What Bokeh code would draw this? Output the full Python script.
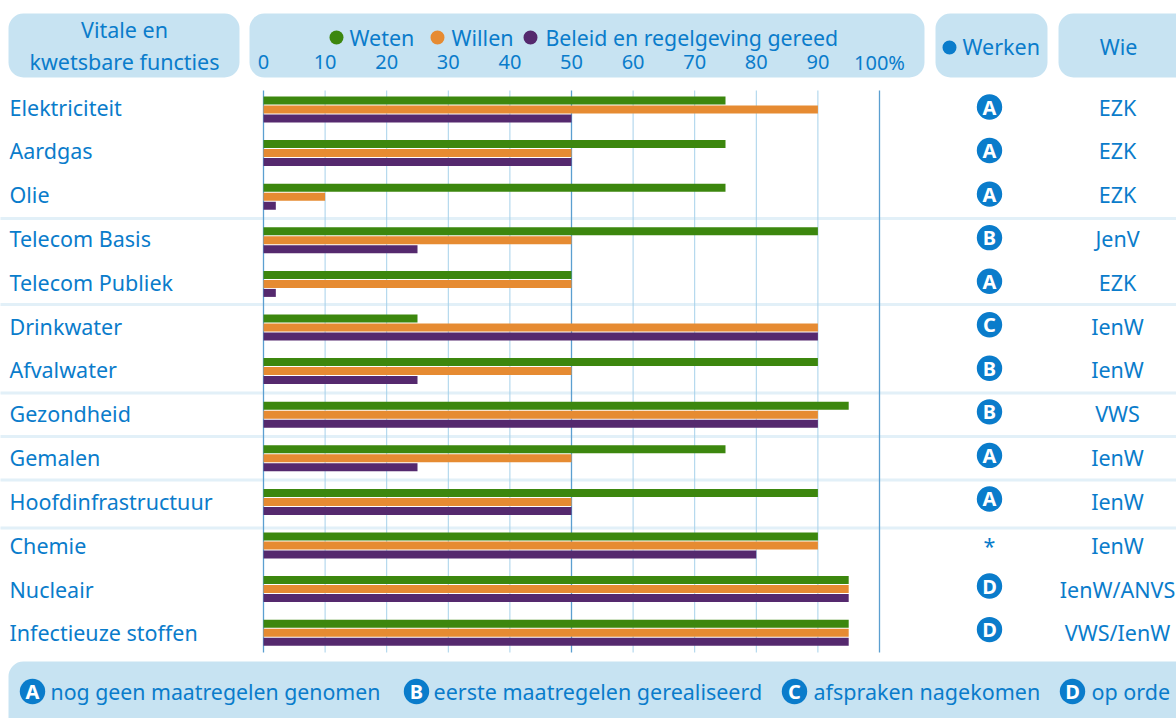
from bokeh.plotting import figure
from bokeh.models import Range1d, BoxAnnotation
from bokeh.core.properties import value
from bokeh.embed import file_html
from bokeh.resources import INLINE

categories = ["Elektriciteit", "Aardgas", "Olie", "Telecom Basis", "Telecom Publiek", "Drinkwater",
              "Afvalwater", "Gezondheid", "Gemalen", "Hoofdinfrastructuur", "Chemie", "Nucleair",
              "Infectieuze stoffen"]
weten = [75, 75, 75, 90, 50, 25, 90, 95, 75, 90, 90, 95, 95]
willen = [90, 50, 10, 50, 50, 90, 50, 90, 50, 50, 90, 95, 95]
beleid = [50, 50, 2, 25, 2, 90, 25, 90, 25, 50, 80, 95, 95]
werken = ["A", "A", "A", "B", "A", "C", "B", "B", "A", "A", "*", "D", "D"]
wie = ["EZK", "EZK", "EZK", "JenV", "EZK", "IenW", "IenW", "VWS", "IenW", "IenW", "IenW", "IenW/ANVS", "VWS/IenW"]
tick_values = [0, 10, 20, 30, 40, 50, 60, 70, 80, 90, 100]
tick_labels = ["0", "10", "20", "30", "40", "50", "60", "70", "80", "90", "100%"]
separators = [2.5, 4.47, 6.5, 7.5, 8.5, 9.6]
legend_texts = ["nog geen maatregelen genomen", "eerste maatregelen gerealiseerd", "afspraken nagekomen", "op orde"]

GREEN, ORANGE, PURPLE = "#3c870e", "#e68b32", "#55296e"
BLUE, PANEL = "#0a7ccb", "#c7e3f2"
W, H = 1176, 718
FONT = value("Noto Sans")
PX_PER_UNIT = 6.16
X0 = 263.0
ROW = 43.6
Y0 = 109.0
SHIFT = 1  # the figure is drawn one pixel in from the page edge

p = figure(width=W, height=H, output_backend="svg", toolbar_location=None,
           x_range=Range1d(-X0 / PX_PER_UNIT, (W - X0) / PX_PER_UNIT),
           y_range=Range1d((H - Y0) / ROW, -Y0 / ROW),
           x_axis_location=None, y_axis_location=None, min_border=0, outline_line_color=None)
p.grid.visible = False
p.extra_x_ranges["px"] = Range1d(SHIFT, W + SHIFT)
p.extra_y_ranges["px"] = Range1d(H, 0)


def panel(l, r, t, b):
    p.add_layout(BoxAnnotation(left=l - SHIFT, right=r - SHIFT, top=H - t, bottom=H - b,
                               left_units="screen", right_units="screen", top_units="screen", bottom_units="screen",
                               fill_color=PANEL, fill_alpha=1, line_color=None, border_radius=15, level="underlay"))


def txt(x, y, s, size, align="left", color=BLUE, style="normal"):
    p.text(x=[x], y=[y], text=[s], x_range_name="px", y_range_name="px", text_font=FONT,
           text_font_size=f"{size}px", text_color=color, text_align=align, text_baseline="middle",
           text_font_style=style)


def dot(x, y, r, color):
    p.circle(x=[x], y=[y], radius=r, x_range_name="px", y_range_name="px",
             fill_color=color, line_color=None)


def badge(x, y, s):
    dot(x, y, 12.7, BLUE)
    txt(x, y, s, 20, "center", "white", "bold")


panel(9, 240, 13, 77)
panel(250, 925, 13, 77)
panel(936, 1048, 13, 77)
panel(1059, 1210, 13, 77)
panel(9, 1210, 661, 750)

# row separators
p.segment(x0=[-60] * len(separators), x1=[160] * len(separators), y0=separators, y1=separators,
          line_color="#e2f0f8", line_width=3)

# grid
y_top, y_bot = (90 - Y0) / ROW, (652 - Y0) / ROW
strong = [v for v in tick_values if v % 50 == 0]
light = [v for v in tick_values if v % 50 != 0]
p.segment(x0=light, x1=light, y0=[y_top] * len(light), y1=[y_bot] * len(light), line_color="#a6d1ea", line_width=1)
p.segment(x0=strong, x1=strong, y0=[y_top] * len(strong), y1=[y_bot] * len(strong), line_color="#5b9fd0", line_width=1.3)

# bars
rows = list(range(len(categories)))
h = 8 / ROW
p.hbar(y=[r - 9 / ROW for r in rows], left=0, right=weten, height=h, fill_color=GREEN, line_color=None)
p.hbar(y=rows, left=0, right=willen, height=h, fill_color=ORANGE, line_color=None)
p.hbar(y=[r + 9 / ROW for r in rows], left=0, right=beleid, height=h, fill_color=PURPLE, line_color=None)

# table texts
for r, (c, k, w) in enumerate(zip(categories, werken, wie)):
    yy = 106.5 + 43.83 * r
    txt(10, yy, c, 21.5)
    txt(1118, yy, w, 21.5, "center")
    yb = 106.5 + 43.55 * r
    if k == "*":
        txt(990, yb + 3, k, 21.5, "center")
    else:
        badge(990, yb, k)

# header
txt(125, 29, "Vitale en", 21.5, "center")
txt(125, 61, "kwetsbare functies", 21.5, "center")
dot(337, 37, 7, GREEN)
txt(350, 36.5, "Weten", 21.5)
dot(438, 37, 7, ORANGE)
txt(452, 36.5, "Willen", 21.5)
dot(531, 37, 7, PURPLE)
txt(546, 36.5, "Beleid en regelgeving gereed", 21.3)
dot(950, 47, 7, BLUE)
txt(963, 46, "Werken", 21.5)
txt(1119, 46, "Wie", 21.5, "center")
p.text(x=tick_values, y=[61.5] * len(tick_values), text=tick_labels, y_range_name="px", text_font=FONT,
       text_font_size="20px", text_color=BLUE, text_align="center", text_baseline="middle")

# legend
badge(33, 691, "A")
txt(51, 690.5, legend_texts[0], 21.3)
badge(417, 691, "B")
txt(434, 690.5, legend_texts[1], 21.5)
badge(795, 691, "C")
txt(814, 690.5, legend_texts[2], 21.5)
badge(1073, 691, "D")
txt(1092, 690.5, legend_texts[3], 21.5)

open("out.html", "w").write(file_html(p, INLINE))
